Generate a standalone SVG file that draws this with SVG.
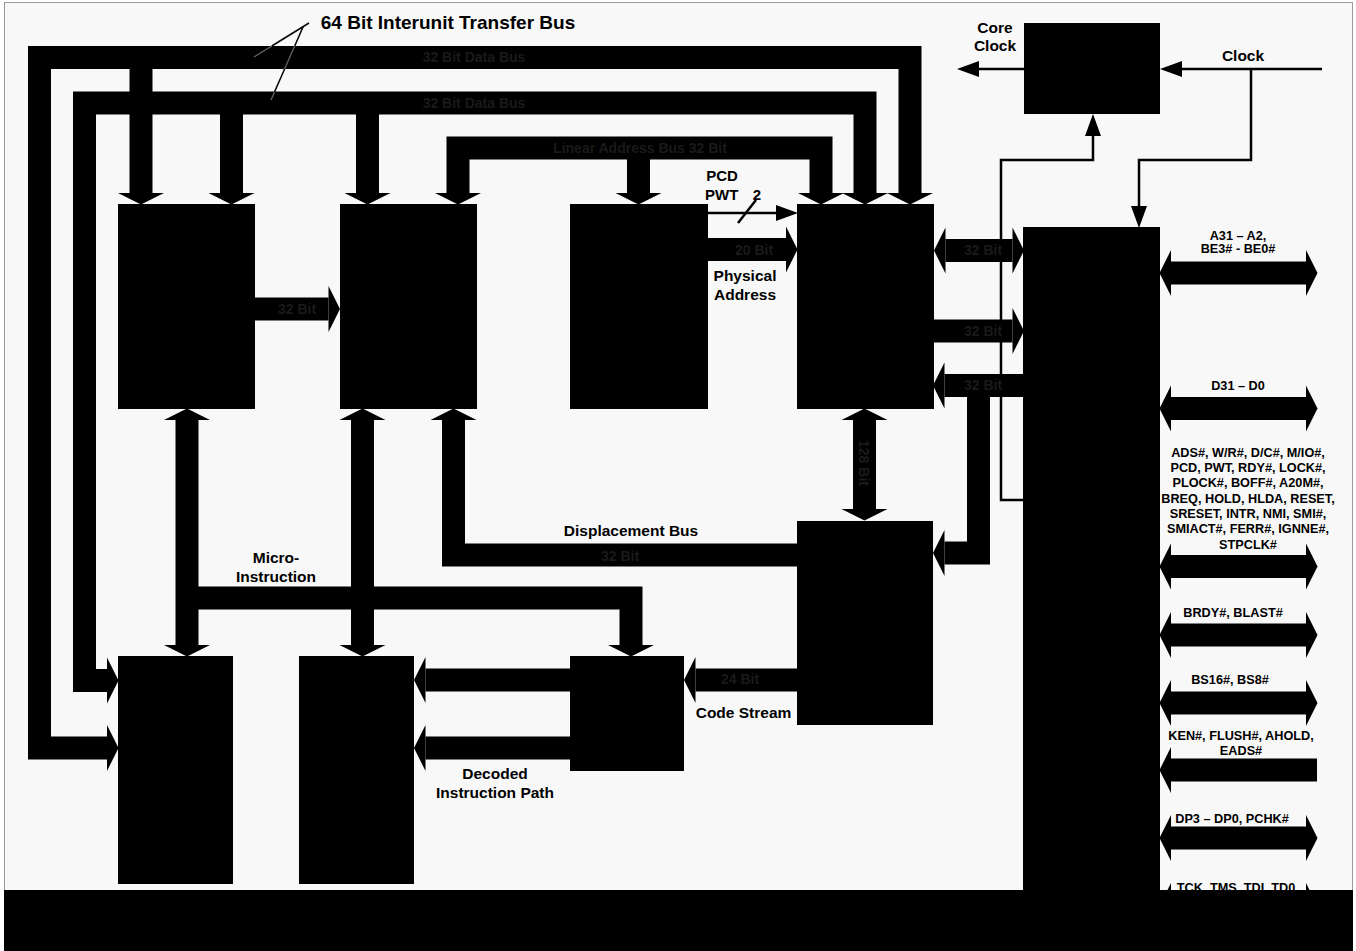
<svg xmlns="http://www.w3.org/2000/svg" width="1356" height="951" viewBox="0 0 1356 951">
<style>
.bus{fill:none;stroke:#000;stroke-width:23;stroke-linejoin:miter;stroke-linecap:butt}
.thin{fill:none;stroke:#000;stroke-width:2.5;stroke-linejoin:miter}
.blk{fill:#000}
text{font-family:"Liberation Sans",Arial,sans-serif;font-weight:bold;fill:#000}
.lbl{font-size:15.5px;text-anchor:middle}
.sig{font-size:12.7px;text-anchor:middle}
.faint{font-size:14px;fill:#1a1a1a;text-anchor:middle}
</style>
<defs>
<marker id="ah" markerUnits="strokeWidth" markerWidth="0.5" markerHeight="2" viewBox="0 0 5 20" refX="0" refY="10" orient="auto-start-reverse" overflow="visible">
<path d="M0,0 L5,10 L0,20 Z" fill="#000"/>
</marker>
<marker id="th" markerUnits="userSpaceOnUse" markerWidth="22" markerHeight="16" viewBox="0 0 22 16" refX="0" refY="8" orient="auto" overflow="visible">
<path d="M0,0 L22,8 L0,16 Z" fill="#000"/>
</marker>
</defs>
<rect x="0" y="0" width="1356" height="951" fill="#fff"/>
<rect x="4.5" y="2.5" width="1348" height="948" fill="#f8f8f8" stroke="#9a9a9a" stroke-width="1"/>

<g id="connectors">
<path class="thin" d="M1024,69 L979,69" marker-end="url(#th)"/>
<path class="thin" d="M1322,69 L1182,69" marker-end="url(#th)"/>
<path class="thin" d="M1251,69 L1251,160 L1139,160 L1139,206" marker-end="url(#th)"/>
<path class="thin" d="M1023,500 L1001,500 L1001,160 L1093,160 L1093,136" marker-end="url(#th)"/>
<path class="thin" d="M707,213 L776,213" marker-end="url(#th)"/>
<line x1="738" y1="223" x2="756" y2="200" stroke="#000" stroke-width="2.5"/>
<line x1="309" y1="23" x2="271.8" y2="46" stroke="#000" stroke-width="1.5"/>
<line x1="303" y1="27" x2="294.7" y2="46" stroke="#000" stroke-width="1.5"/>
<line x1="284.6" y1="69" x2="274.5" y2="92" stroke="#000" stroke-width="1.5"/>

<path class="bus" d="M107,748 L39.5,748 L39.5,57.5 L910,57.5 L910,193" marker-start="url(#ah)" marker-end="url(#ah)"/>
<path class="bus" d="M107,680.5 L84.5,680.5 L84.5,103 L865,103 L865,193" marker-start="url(#ah)" marker-end="url(#ah)"/>
<path class="bus" d="M141,57.5 L141,193" marker-end="url(#ah)"/>
<path class="bus" d="M231.5,103 L231.5,193" marker-end="url(#ah)"/>
<path class="bus" d="M367.5,103 L367.5,193" marker-end="url(#ah)"/>
<path class="bus" d="M458,193 L458,148 L821,148 L821,193" marker-start="url(#ah)" marker-end="url(#ah)"/>
<path class="bus" d="M638.5,148 L638.5,193" marker-end="url(#ah)"/>
<path class="bus" d="M255,309 L328.5,309" marker-end="url(#ah)"/>
<path class="bus" d="M707,249.5 L786,249.5" marker-end="url(#ah)"/>
<path class="bus" d="M187,420 L187,645" marker-start="url(#ah)" marker-end="url(#ah)"/>
<path class="bus" d="M362.5,420 L362.5,645" marker-start="url(#ah)" marker-end="url(#ah)"/>
<path class="bus" d="M187,598 L631,598 L631,645" marker-end="url(#ah)"/>
<path class="bus" d="M797,555 L453.5,555 L453.5,420" marker-end="url(#ah)"/>
<path class="bus" d="M570,680 L425.5,680" marker-end="url(#ah)"/>
<path class="bus" d="M570,748 L425.5,748" marker-end="url(#ah)"/>
<path class="bus" d="M797,680 L695.5,680" marker-end="url(#ah)"/>
<path class="bus" d="M864.5,420 L864.5,509" marker-start="url(#ah)" marker-end="url(#ah)"/>
<path class="bus" d="M945.5,250.5 L1012.5,250.5" marker-start="url(#ah)" marker-end="url(#ah)"/>
<path class="bus" d="M934,331 L1012.5,331" marker-end="url(#ah)"/>
<path class="bus" d="M1023,385.5 L944.5,385.5" marker-end="url(#ah)"/>
<path class="bus" d="M978.5,385.5 L978.5,553 L944.5,553" marker-end="url(#ah)"/>
<path class="bus" d="M1171,273 L1306,273" marker-start="url(#ah)" marker-end="url(#ah)"/>
<path class="bus" d="M1171,408.5 L1306,408.5" marker-start="url(#ah)" marker-end="url(#ah)"/>
<path class="bus" d="M1171,566.5 L1306,566.5" marker-start="url(#ah)" marker-end="url(#ah)"/>
<path class="bus" d="M1171,635 L1306,635" marker-start="url(#ah)" marker-end="url(#ah)"/>
<path class="bus" d="M1171,703 L1306,703" marker-start="url(#ah)" marker-end="url(#ah)"/>
<path class="bus" d="M1317,770 L1171,770" marker-end="url(#ah)"/>
<path class="bus" d="M1171,838 L1306,838" marker-start="url(#ah)" marker-end="url(#ah)"/>
<path class="bus" d="M1171,906 L1306,906" marker-start="url(#ah)" marker-end="url(#ah)"/>
<line x1="271.8" y1="46" x2="254" y2="57" stroke="#666" stroke-width="1.2"/>
<line x1="294.7" y1="46" x2="284.6" y2="69" stroke="#666" stroke-width="1.2"/>
<line x1="274.5" y1="92" x2="271" y2="100" stroke="#666" stroke-width="1.2"/>
</g>

<g id="n_alu"><rect class="blk" x="118" y="204" width="137" height="205"/></g>
<g id="n_seg"><rect class="blk" x="340" y="204" width="137" height="205"/></g>
<g id="n_page"><rect class="blk" x="570" y="204" width="138" height="205"/></g>
<g id="n_cache"><rect class="blk" x="797" y="204" width="137" height="205"/></g>
<g id="n_biu"><rect class="blk" x="1023" y="227" width="137" height="663"/></g>
<g id="n_clock"><rect class="blk" x="1024" y="23" width="136" height="91"/></g>
<g id="n_fpu"><rect class="blk" x="118" y="656" width="115" height="228"/></g>
<g id="n_ctrl"><rect class="blk" x="299" y="656" width="115" height="228"/></g>
<g id="n_decode"><rect class="blk" x="570" y="656" width="114" height="115"/></g>
<g id="n_prefetch"><rect class="blk" x="797" y="521" width="136" height="204"/></g>

<g id="labels">
<text x="448" y="29" font-size="19" text-anchor="middle">64 Bit Interunit Transfer Bus</text>
<text class="faint" x="474" y="62" font-size="15">32 Bit Data Bus</text>
<text class="faint" x="474" y="108" font-size="15">32 Bit Data Bus</text>
<text class="faint" x="640" y="153">Linear Address Bus 32 Bit</text>
<text class="faint" x="297" y="314">32 Bit</text>
<text class="faint" x="754" y="255">20 Bit</text>
<text class="faint" x="983" y="255">32 Bit</text>
<text class="faint" x="983" y="336">32 Bit</text>
<text class="faint" x="983" y="390">32 Bit</text>
<text class="faint" transform="translate(859,463) rotate(90)" x="0" y="0">128 Bit</text>
<text class="faint" x="620" y="561">32 Bit</text>
<text class="faint" x="740" y="684">24 Bit</text>

<text class="lbl" x="995" y="33" font-size="16">Core</text>
<text class="lbl" x="995" y="51" font-size="16">Clock</text>
<text class="lbl" x="1243" y="61" font-size="16">Clock</text>
<text x="722" y="181" font-size="15" text-anchor="middle">PCD</text>
<text x="705" y="200" font-size="15">PWT</text>
<text x="757" y="200" font-size="15" text-anchor="middle">2</text>
<text class="lbl" x="745" y="281">Physical</text>
<text class="lbl" x="745" y="300">Address</text>
<text class="lbl" x="631" y="536">Displacement Bus</text>
<text class="lbl" x="276" y="563">Micro-</text>
<text class="lbl" x="276" y="582">Instruction</text>
<text class="lbl" x="743.5" y="718">Code Stream</text>
<text class="lbl" x="495" y="779">Decoded</text>
<text class="lbl" x="495" y="798">Instruction Path</text>

<text class="sig" x="1238" y="239.6">A31 – A2,</text>
<text class="sig" x="1238" y="252.6">BE3# - BE0#</text>
<text class="sig" x="1238" y="389.6">D31 – D0</text>
<text class="sig" x="1248" y="456.6">ADS#, W/R#, D/C#, M/IO#,</text>
<text class="sig" x="1248" y="472">PCD, PWT, RDY#, LOCK#,</text>
<text class="sig" x="1248" y="487.3">PLOCK#, BOFF#, A20M#,</text>
<text class="sig" x="1248" y="502.6">BREQ, HOLD, HLDA, RESET,</text>
<text class="sig" x="1248" y="518">SRESET, INTR, NMI, SMI#,</text>
<text class="sig" x="1248" y="533.3">SMIACT#, FERR#, IGNNE#,</text>
<text class="sig" x="1248" y="548.6">STPCLK#</text>
<text class="sig" x="1233" y="616.6">BRDY#, BLAST#</text>
<text class="sig" x="1230" y="683.6">BS16#, BS8#</text>
<text class="sig" x="1241" y="739.6">KEN#, FLUSH#, AHOLD,</text>
<text class="sig" x="1241" y="754.6">EADS#</text>
<text class="sig" x="1232" y="822.6">DP3 – DP0, PCHK#</text>
<text class="sig" x="1236" y="892">TCK, TMS, TDI, TD0</text>
</g>

<rect id="bottom_band" x="4" y="890" width="1349" height="61" fill="#000"/>
</svg>
